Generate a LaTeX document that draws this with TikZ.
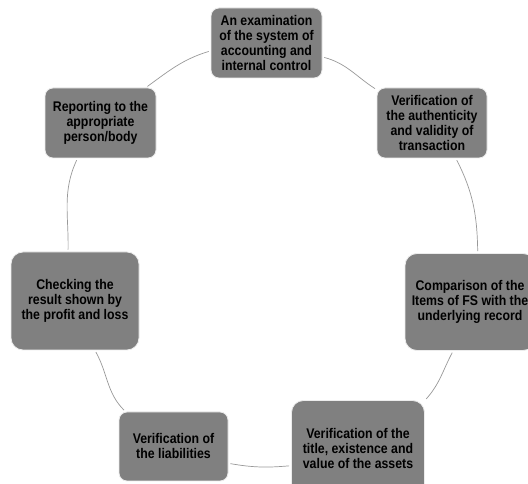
\documentclass[tikz,border=0pt]{standalone}
\usepackage{fontspec}
\setmainfont[FakeStretch=0.88]{Liberation Sans}
\begin{document}
\begin{tikzpicture}[x=1pt,y=1pt,
  box/.style={draw=white!85!gray,line width=0.8pt,fill=boxgray,rounded corners=8pt,align=center,
    inner sep=1pt,font=\color{black}\bfseries\fontsize{14pt}{15pt}\selectfont,text=black},
  small/.style={box,minimum width=111pt,minimum height=70pt},
  big/.style={box,minimum width=130pt,minimum height=97pt,rounded corners=12pt},
  link/.style={draw=linegray,line width=0.7pt,shorten >=2pt,shorten <=2pt}]
\definecolor{boxgray}{HTML}{808080}
\definecolor{linegray}{HTML}{999999}
\useasboundingbox (0,0) rectangle (528,484);
\clip (0,0) rectangle (528,484);
\fill[white] (0,0) rectangle (528,484);
\node[small] (b1) at (266.5,441) {An examination\\of the system of\\accounting and\\internal control};
\node[small,minimum width=110pt] (b2) at (432,361) {Verification of\\the authenticity\\and validity of\\transaction};
\node[big] (b3) at (470,182) {Comparison of the\\Items of FS with the\\underlying record};
\node[big,minimum width=133pt] (b4) at (358,35) {Verification of the\\title, existence and\\value of the assets};
\node[small,minimum width=109pt,minimum height=69pt] (b5) at (173.5,37.5) {Verification of\\the liabilities};
\node[big,minimum width=128pt,minimum height=98pt] (b6) at (75,183) {Checking the\\result shown by\\the profit and loss};
\node[small] (b7) at (100.5,361) {Reporting to the\\appropriate\\person/body};
\draw[link] (b1.-14) to[out=-15,in=147] (b2.149);
\draw[link] (b2.-56) to[out=-63,in=91] (b3.81);
\draw[link] (b3.-109) to[out=-118,in=48] (b4.36);
\draw[link] (b4.194) to[out=185,in=-10] (b5.-17);
\draw[link] (b5.144) to[out=135,in=-61] (b6.-68);
\draw[link] (b6.98) to[out=89,in=245] (b7.237);
\draw[link] (b7.38) to[out=36,in=197] (b1.188);
\end{tikzpicture}
\end{document}
